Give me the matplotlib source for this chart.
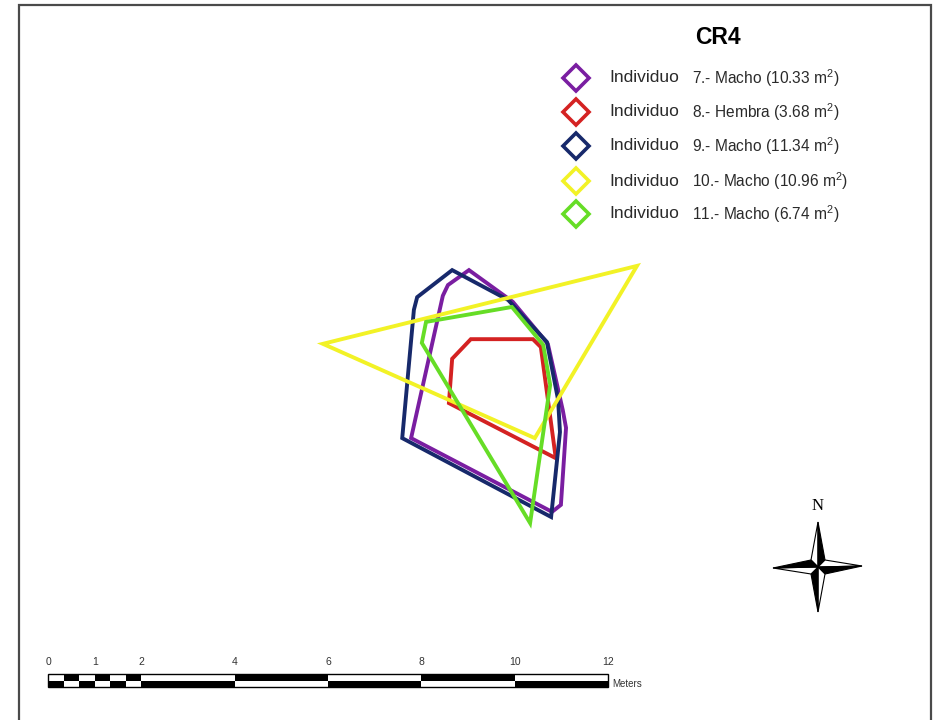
import matplotlib.pyplot as plt
from matplotlib.patches import Polygon, Rectangle

plt.rcParams['mathtext.fontset'] = 'custom'
plt.rcParams['mathtext.rm'] = 'Liberation Sans'
plt.rcParams['mathtext.it'] = 'Liberation Sans:italic'

W, H = 938, 720
PX_PER_M = 46.67
X0 = 48  # pixel column of the 0 m mark

# home range polygons, vertices in metres
ind7 = [(9.02, 9.64), (9.96, 8.96), (10.71, 8.06), (11.03, 6.64), (11.10, 6.26),
        (10.99, 4.61), (10.80, 4.46), (7.78, 6.04), (8.46, 9.09), (8.57, 9.32)]
ind8 = [(9.06, 8.16), (10.39, 8.16), (10.56, 7.99), (10.88, 5.61), (8.59, 6.79),
        (8.66, 7.74)]
ind9 = [(8.66, 9.64), (9.86, 9.00), (10.69, 8.10), (10.93, 6.86), (10.97, 6.17),
        (10.78, 4.35), (7.59, 6.04), (7.84, 8.79), (7.91, 9.06)]
ind10 = [(5.89, 8.06), (12.62, 9.73), (10.43, 6.04)]
ind11 = [(8.10, 8.53), (9.94, 8.85), (10.61, 8.04), (10.76, 7.18), (10.33, 4.22),
         (8.01, 8.08)]

ids = ["7", "8", "9", "10", "11"]
sexes = ["Macho", "Hembra", "Macho", "Macho", "Macho"]
areas = [10.33, 3.68, 11.34, 10.96, 6.74]
polys = [ind7, ind8, ind9, ind10, ind11]
colors = ["#7a1ea1", "#d42222", "#17296b", "#f2f226", "#66dd26"]
draw_order = [0, 2, 1, 3, 4]

scale_ticks = [0, 1, 2, 4, 6, 8, 10, 12]

fig = plt.figure(figsize=(W / 100, H / 100), dpi=100)
fig.patch.set_facecolor("white")

# map axes in metres, same scale on both axes
ax = fig.add_axes([0, 0, 1, 1])
ax.set_xlim(-X0 / PX_PER_M, (W - X0) / PX_PER_M)
ax.set_ylim(0, H / PX_PER_M)
ax.axis("off")

for i in draw_order:
    ax.add_patch(Polygon(polys[i], closed=True, fill=False, edgecolor=colors[i],
                         lw=2.8, joinstyle="miter", zorder=2 + i))

# scale bar
y_bot, y_mid, y_top = 0.707, 0.846, 0.986
edges = [0, 1 / 3, 2 / 3, 1, 4 / 3, 5 / 3, 2, 4, 6, 8, 10, 12]
for k in range(len(edges) - 1):
    w = edges[k + 1] - edges[k]
    top_col = "white" if k % 2 == 0 else "black"
    bot_col = "black" if k % 2 == 0 else "white"
    ax.add_patch(Rectangle((edges[k], y_mid), w, y_top - y_mid, fc=top_col, ec="none"))
    ax.add_patch(Rectangle((edges[k], y_bot), w, y_mid - y_bot, fc=bot_col, ec="none"))
ax.add_patch(Rectangle((0, y_bot), 12, y_top - y_bot, fill=False, ec="black", lw=1.0))
for t in scale_ticks:
    ax.text(t, 1.24, str(t), ha="center", va="center", fontsize=7.5,
            family="Liberation Sans", color="#333333")
ax.text(12.08, 0.78, "Meters", ha="left", va="center", fontsize=7,
        family="Liberation Sans", color="#333333")

# overlay in pixel coordinates for frame, legend and north arrow
ov = fig.add_axes([0, 0, 1, 1], zorder=5)
ov.set_xlim(0, W)
ov.set_ylim(H, 0)
ov.axis("off")
ov.patch.set_alpha(0)

ov.plot([19, 19, 931, 931], [H + 5, 5, 5, H + 5], color="#4a4a4a", lw=1.6,
        solid_joinstyle="miter", clip_on=False)

ov.text(718, 37, "CR4", ha="center", va="center", fontsize=16.5,
        fontweight="bold", family="Liberation Sans")
row_y = [78, 112, 146, 181, 214]
for i in range(5):
    ov.plot(576, row_y[i], marker="D", ms=13.5, mfc="none", mec=colors[i], mew=2.6)
    ov.text(609, row_y[i], "Individuo", ha="left", va="center", fontsize=12.5,
            family="Liberation Sans", color="#2a2a2a")
    label = f"{ids[i]}.- {sexes[i]} ({areas[i]:.2f} m$^{{2}}$)"
    ov.text(692, row_y[i], label, ha="left", va="center", fontsize=11.2,
            family="Liberation Sans", color="#2a2a2a")

# north arrow
cx, cy = 818, 567
tips = {"n": (818, 522), "e": (862, 566), "s": (818, 612), "w": (773, 568)}
r = 7
inner = {"ne": (cx + r, cy - r), "se": (cx + r, cy + r),
         "sw": (cx - r, cy + r), "nw": (cx - r, cy - r)}
halves = [("n", "nw", "white"), ("n", "ne", "black"),
          ("e", "ne", "white"), ("e", "se", "black"),
          ("s", "se", "white"), ("s", "sw", "black"),
          ("w", "sw", "white"), ("w", "nw", "black")]
for tip, inn, fc in halves:
    ov.add_patch(Polygon([(cx, cy), tips[tip], inner[inn]], closed=True, fc=fc,
                         ec="black", lw=0.8))
ov.text(818, 506, "N", ha="center", va="center", fontsize=12,
        family="Liberation Serif")

fig.savefig("out.png", dpi=100)
